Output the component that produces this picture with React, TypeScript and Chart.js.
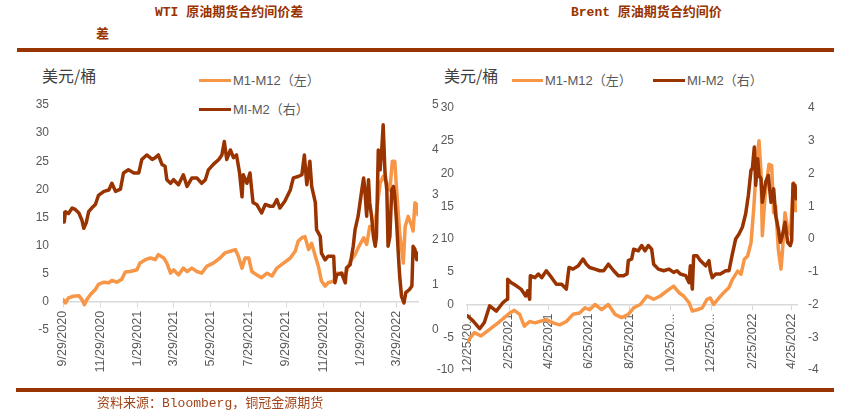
import React, { useEffect, useRef } from "react";
import { Chart, registerables } from "chart.js";

Chart.register(...registerables);

// ---------- WTI (left panel) ----------
const wtiStart = "9/29/2020";
const wtiTickDates = ["9/29/2020", "11/29/2020", "1/29/2021", "3/29/2021", "5/29/2021", "7/29/2021", "9/29/2021", "11/29/2021", "1/29/2022", "3/29/2022"];
// days since 9/29/2020
const wtiM1M12Days = [0,4,9,17,26,31,35,39,45,53,58,67,75,80,88,96,102,110,121,126,135,143,151,156,165,170,176,181,189,197,203,211,219,227,235,246,257,265,274,282,287,293,298,304,309,317,325,334,342,350,361,372,380,385,391,396,402,407,413,418,423,429,434,443,448,456,462,470,478,483,492,497,502,508,513,519,524,530,535,539,543,546,551,557,560,565,571,573,576,579,581];
const wtiM1M12 = [0.4,-0.2,0.7,1.0,1.1,0.4,-0.5,0.4,1.3,2.2,3.1,3.5,3.4,3.8,3.5,4.0,5.3,5.4,5.7,6.9,7.5,7.8,7.5,8.4,7.8,6.9,5.1,5.7,4.8,6.0,5.4,6.0,5.4,5.1,6.3,6.9,7.8,8.7,9.0,9.3,8.1,6.0,7.8,7.8,5.4,4.8,4.3,5.1,4.6,6.0,6.9,7.8,9.0,10.8,11.4,11.6,9.3,10.4,8.1,6.3,3.7,2.8,3.4,3.7,5.1,5.1,4.8,7.2,8.4,9.6,11.4,10.2,13.4,12.8,15.8,21.1,22.3,21.1,19.9,25.0,25.0,19.9,12.2,6.9,13.4,15.2,13.4,12.6,17.6,17.3,15.5];
const wtiM1M2Days = [0,2,4,9,15,20,26,31,34,38,42,47,53,58,67,75,80,86,94,99,107,116,124,129,137,146,151,156,162,167,170,176,181,189,197,203,211,219,227,233,238,246,255,260,264,268,274,279,284,289,293,295,301,306,311,317,325,331,339,344,350,355,363,372,377,385,391,395,399,404,407,413,415,421,423,429,434,443,445,448,456,462,464,470,475,478,483,489,492,494,497,500,502,505,508,511,513,516,519,522,524,527,530,532,535,538,541,543,546,549,551,554,558,561,567,571,573,576,579,581];
const wtiM1M2 = [2.60,2.40,2.63,2.59,2.71,2.68,2.60,2.44,2.26,2.38,2.63,2.71,2.79,2.99,3.08,3.11,3.26,3.08,3.13,3.49,3.56,3.49,3.49,3.79,3.89,3.79,3.83,3.89,3.68,3.64,3.34,3.26,3.34,3.23,3.45,3.19,3.38,3.38,3.26,3.34,3.56,3.68,3.79,3.89,4.19,3.79,4.00,3.83,3.89,3.49,2.96,3.45,3.26,3.49,2.83,2.79,2.60,2.79,2.75,2.75,2.90,2.71,2.86,3.11,3.38,3.41,3.45,3.89,3.23,3.75,3.19,2.83,2.23,2.08,1.71,1.56,1.64,1.64,1.05,1.23,1.26,1.05,1.38,1.45,1.86,2.23,2.53,3.11,3.38,3.11,2.53,3.34,2.83,2.53,2.08,1.86,2.08,4.00,3.56,4.08,4.56,3.49,3.11,1.86,2.08,3.11,3.19,2.96,2.38,1.64,1.20,0.75,0.60,0.83,0.90,0.98,1.86,1.79,1.56,1.71];

// ---------- Brent (right panel) ----------
const brentStart = "12/25/2020";
const brentTickDates = ["12/25/2020", "2/25/2021", "4/25/2021", "6/25/2021", "8/25/2021", "10/25/2021", "12/25/2021", "2/25/2022", "4/25/2022"];
// days since 12/25/2020
const brentM1M12Days = [0,10,20,33,48,63,70,78,85,93,101,108,118,128,138,148,158,168,176,183,191,201,211,221,231,241,249,259,269,279,289,302,309,317,324,332,337,344,352,359,364,369,377,384,392,397,405,410,415,420,425,429,431,435,437,440,442,445,447,452,456,459,462,466,470,472,476,480,484,486,489,492];
const brentM1M12 = [-5.6,-4.3,-4.8,-3.8,-2.6,-1.3,-0.9,-1.5,-3.3,-2.6,-2.8,-2.6,-2.3,-2.8,-3.1,-2.6,-1.5,-1.3,-0.5,-0.8,0,-0.8,0,-1.5,-2.0,-1.5,-0.5,0,1.3,0.8,1.3,2.3,2.8,1.8,1.3,0.3,-1.0,-0.8,-0.5,0.8,1.0,0,1.0,1.8,2.6,3.8,5.1,4.6,6.9,7.4,9.4,14.5,17.6,23.2,25.0,20.2,10.5,15.0,17.6,21.4,21.2,14.0,15.0,8.4,5.4,7.9,14.0,11.7,10.7,14.0,18.6,14.3];
const brentM1M2Days = [0,8,18,25,33,43,53,59,60,65,73,80,87,90,93,94,101,106,111,118,126,133,141,148,152,158,166,173,178,183,191,198,204,211,219,226,234,239,241,246,249,256,261,266,271,276,279,286,294,302,309,314,319,327,332,334,337,339,344,349,357,362,364,367,372,379,387,392,397,402,407,412,417,421,425,427,430,432,435,437,440,442,447,451,455,459,462,466,469,472,476,480,484,486,488,491,493];
const brentM1M2 = [-2.35,-2.5,-2.74,-2.55,-2.04,-2.2,-1.94,-1.84,-1.23,-1.33,-1.43,-1.53,-1.74,-1.58,-1.84,-1.12,-1.18,-1.07,-1.18,-0.97,-1.18,-1.38,-1.38,-1.53,-0.87,-0.92,-0.82,-0.61,-0.77,-0.87,-0.92,-0.97,-0.97,-0.77,-0.97,-1.12,-1.12,-1.07,-0.66,-0.61,-0.31,-0.36,-0.2,-0.36,-0.2,-0.31,-0.77,-0.92,-0.97,-0.92,-1.02,-0.97,-1.07,-1.12,-1.33,-0.82,-1.53,-0.51,-0.51,-0.66,-0.82,-0.66,-0.97,-1.18,-1.07,-1.07,-0.97,-0.97,-0.46,0,0.15,0.36,0.77,1.33,2.1,2.15,2.81,1.64,2.45,1.94,1.84,1.12,1.74,1.94,1.12,1.53,0.72,0.31,-0.1,0.1,0.51,-0.1,-0.2,-0.05,1.69,1.64,1.23];

const ORANGE = "#F79646";
const DARK = "#993300";
const TICK_COLOR = "#595959";
const AXIS_COLOR = "#d9d9d9";
const TICK_FONT = "'Liberation Sans', 'Noto Sans CJK SC', sans-serif";

function parseDay(s: string): number {
  const [m, d, y] = s.split("/").map(Number);
  return Date.UTC(y, m - 1, d) / 86400000;
}
function daysSince(date: string, start: string): number {
  return Math.round(parseDay(date) - parseDay(start));
}
function points(xs: number[], ys: number[]) {
  return xs.map((x, i) => ({ x, y: ys[i] }));
}
function shortLabel(s: string): string {
  return s.length > 9 ? s.slice(0, 8) + "..." : s;
}

type PanelSpec = {
  tickDays: number[];
  tickLabels: string[];
  xMin: number;
  xMax: number;
  orange: { x: number; y: number }[];
  dark: { x: number; y: number }[];
  yMin: number; yMax: number; yStep: number;
  y1Min: number; y1Max: number; y1Step: number;
  padding: { left: number; right: number; top: number; bottom: number };
  leftPad: number; rightPad: number;
};

function makeConfig(p: PanelSpec): any {
  return {
    type: "line",
    data: {
      datasets: [
        {
          label: "MI-M2（右）",
          data: p.dark,
          yAxisID: "y1",
          borderColor: DARK,
          backgroundColor: DARK,
          borderWidth: 3.5,
          pointRadius: 0,
          tension: 0,
          borderJoinStyle: "round",
          borderCapStyle: "round",
          order: 0,
        },
        {
          label: "M1-M12（左）",
          data: p.orange,
          yAxisID: "y",
          borderColor: ORANGE,
          backgroundColor: ORANGE,
          borderWidth: 3.5,
          pointRadius: 0,
          tension: 0,
          borderJoinStyle: "round",
          borderCapStyle: "round",
          order: 1,
        },
      ],
    },
    options: {
      animation: false,
      responsive: false,
      maintainAspectRatio: false,
      events: [],
      layout: { padding: p.padding },
      plugins: { legend: { display: false }, tooltip: { enabled: false }, title: { display: false } },
      scales: {
        x: {
          type: "linear",
          position: { y: 0 },
          min: p.xMin,
          max: p.xMax,
          afterBuildTicks: (scale: any) => {
            scale.ticks = p.tickDays.map((v) => ({ value: v }));
          },
          ticks: {
            autoSkip: false,
            maxRotation: 90,
            minRotation: 90,
            padding: 4,
            color: TICK_COLOR,
            font: { family: TICK_FONT, size: 12.5 },
            callback: (v: number) => {
              const i = p.tickDays.indexOf(v);
              return i >= 0 ? p.tickLabels[i] : "";
            },
          },
          grid: { display: true, drawOnChartArea: false, drawTicks: true, tickLength: 5, color: AXIS_COLOR, lineWidth: 1 },
          border: { display: true, color: AXIS_COLOR, width: 1.5 },
        },
        y: {
          position: "left",
          min: p.yMin,
          max: p.yMax,
          afterFit: (s: any) => { s.width = 40; },
          ticks: { stepSize: p.yStep, padding: p.leftPad, color: TICK_COLOR, font: { family: TICK_FONT, size: 12 } },
          grid: { display: false, drawTicks: false },
          border: { display: false },
        },
        y1: {
          position: "right",
          min: p.y1Min,
          max: p.y1Max,
          afterFit: (s: any) => { s.width = 40; },
          ticks: { stepSize: p.y1Step, padding: p.rightPad, color: TICK_COLOR, font: { family: TICK_FONT, size: 12 } },
          grid: { display: false, drawTicks: false },
          border: { display: false },
        },
      },
    },
  };
}

function ChartCanvas({ spec }: { spec: PanelSpec }) {
  const ref = useRef<HTMLCanvasElement>(null);
  useEffect(() => {
    if (!ref.current) return;
    const chart = new Chart(ref.current, makeConfig(spec));
    return () => chart.destroy();
  }, []);
  return (
    <canvas
      ref={ref}
      width={847}
      height={416}
      style={{ position: "absolute", left: 0, top: 0, width: 847, height: 416 }}
    />
  );
}

const wtiSpec: PanelSpec = {
  tickDays: wtiTickDates.map((d) => daysSince(d, wtiStart)),
  tickLabels: wtiTickDates,
  xMin: 0,
  xMax: 581,
  orange: points(wtiM1M12Days, wtiM1M12),
  dark: points(wtiM1M2Days, wtiM1M2),
  yMin: -5, yMax: 35, yStep: 5,
  y1Min: 0, y1Max: 5, y1Step: 1,
  padding: { left: 23, right: 389, top: 105, bottom: 86 },
  leftPad: 14, rightPad: 14,
};

const brentSpec: PanelSpec = {
  tickDays: brentTickDates.map((d) => daysSince(d, brentStart)),
  tickLabels: brentTickDates.map(shortLabel),
  xMin: -1,
  xMax: 494,
  orange: points(brentM1M12Days, brentM1M12),
  dark: points(brentM1M2Days, brentM1M2),
  yMin: -10, yMax: 30, yStep: 5,
  y1Min: -4, y1Max: 4, y1Step: 1,
  padding: { left: 427, right: 10, top: 108, bottom: 46 },
  leftPad: 13, rightPad: 11,
};

const titleFont = "'Liberation Mono', 'Noto Sans CJK SC', monospace";
const cjk = "'Noto Sans CJK SC', sans-serif";
const legendFont = "'Liberation Sans', 'Noto Sans CJK SC', sans-serif";

function Txt({ x, cy, size, color, font, bold, children }: any) {
  return (
    <div
      style={{
        position: "absolute",
        left: x,
        top: cy - size,
        height: size * 2,
        lineHeight: `${size * 2}px`,
        fontSize: size,
        fontFamily: font,
        fontWeight: bold ? 700 : 400,
        color,
        whiteSpace: "nowrap",
      }}
    >
      {children}
    </div>
  );
}

function Rect({ x, y, w, h, c }: any) {
  return <div style={{ position: "absolute", left: x, top: y, width: w, height: h, background: c }} />;
}

export default function App() {
  return (
    <div style={{ position: "absolute", left: 0, top: 0, width: 847, height: 416, background: "#fff", overflow: "hidden" }}>
      <Txt x={155} cy={13} size={13} color={DARK} font={titleFont} bold>WTI 原油期货合约间价差</Txt>
      <Txt x={96} cy={35} size={13} color={DARK} font={titleFont} bold>差</Txt>
      <Txt x={571} cy={13} size={13} color={DARK} font={titleFont} bold>Brent 原油期货合约间价</Txt>
      <Rect x={17} y={48} w={817} h={4} c={DARK} />
      <Rect x={16} y={388} w={818} h={4} c={DARK} />

      <Txt x={42} cy={75} size={16} color="#404040" font={cjk}>美元/桶</Txt>
      <Txt x={444} cy={75} size={16} color="#404040" font={cjk}>美元/桶</Txt>

      <Rect x={199} y={79} w={32} h={3} c={ORANGE} />
      <Txt x={233} cy={81} size={13} color={TICK_COLOR} font={legendFont}>M1-M12（左）</Txt>
      <Rect x={199} y={108} w={32} h={3} c={DARK} />
      <Txt x={233} cy={110} size={13} color={TICK_COLOR} font={legendFont}>MI-M2（右）</Txt>

      <Rect x={512} y={79} w={31} h={3} c={ORANGE} />
      <Txt x={545} cy={81} size={13} color={TICK_COLOR} font={legendFont}>M1-M12（左）</Txt>
      <Rect x={653} y={79} w={32} h={3} c={DARK} />
      <Txt x={687} cy={81} size={13} color={TICK_COLOR} font={legendFont}>MI-M2（右）</Txt>

      <ChartCanvas spec={wtiSpec} />
      <ChartCanvas spec={brentSpec} />

      <Txt x={97} cy={404} size={13} color="#A0441A" font={titleFont}>资料来源：Bloomberg，铜冠金源期货</Txt>
    </div>
  );
}
